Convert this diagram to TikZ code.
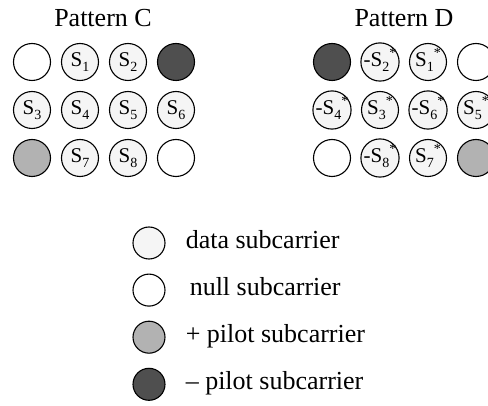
\documentclass[tikz,border=0pt]{standalone}
\usepackage{fontspec}
\setmainfont{Liberation Serif}
\usetikzlibrary{positioning}
\definecolor{datagray}{gray}{0.96}
\definecolor{plusgray}{gray}{0.70}
\definecolor{minusgray}{gray}{0.31}
\newcommand{\sbs}[1]{\raisebox{-5pt}{\fontsize{14}{14}\selectfont #1}}
\newcommand{\cnj}{\raisebox{8.5pt}{\fontsize{14}{14}\selectfont *}}

\begin{document}
\begin{tikzpicture}[x=1pt,y=-1pt,
    carrier/.style={circle,draw,line width=1.1pt,minimum size=37pt,inner sep=0pt,
      text height=14.5pt,text depth=5.5pt,font=\fontsize{21}{21}\selectfont},
    datasc/.style={carrier,fill=datagray},
    nullsc/.style={carrier,fill=white},
    pluspilot/.style={carrier,fill=plusgray},
    minuspilot/.style={carrier,fill=minusgray},
    keysc/.style={minimum size=32pt},
    keytext/.style={inner sep=0pt,text height=18pt,text depth=7pt,font=\fontsize{26}{26}\selectfont},
    headline/.style={anchor=base,inner sep=0pt,font=\fontsize{26}{26}\selectfont}]
        \path[use as bounding box,clip] (0,0) rectangle (488,406);

        % pattern C
        \node[headline] (titleC) at (103,27) {Pattern C};
        \node[nullsc] (c11) at (32,62) {};
        \node[datasc] (c12) at (80,62) {S\sbs{1}};
        \node[datasc] (c13) at (128,62) {S\sbs{2}};
        \node[minuspilot] (c14) at (176,62) {};
        \node[datasc] (c21) at (32,110) {S\sbs{3}};
        \node[datasc] (c22) at (80,110) {S\sbs{4}};
        \node[datasc] (c23) at (128,110) {S\sbs{5}};
        \node[datasc] (c24) at (176,110) {S\sbs{6}};
        \node[pluspilot] (c31) at (32,158) {};
        \node[datasc] (c32) at (80,158) {S\sbs{7}};
        \node[datasc] (c33) at (128,158) {S\sbs{8}};
        \node[nullsc] (c34) at (176,158) {};

        % pattern D
        \node[headline] (titleD) at (404,27) {Pattern D};
        \node[minuspilot] (d11) at (332,62) {};
        \node[datasc] (d12) at (380,62) {-S\sbs{2}\cnj};
        \node[datasc] (d13) at (428,62) {S\sbs{1}\cnj};
        \node[nullsc] (d14) at (476,62) {};
        \node[datasc] (d21) at (332,110) {-S\sbs{4}\cnj};
        \node[datasc] (d22) at (380,110) {S\sbs{3}\cnj};
        \node[datasc] (d23) at (428,110) {-S\sbs{6}\cnj};
        \node[datasc] (d24) at (476,110) {S\sbs{5}\cnj};
        \node[nullsc] (d31) at (332,158) {};
        \node[datasc] (d32) at (380,158) {-S\sbs{8}\cnj};
        \node[datasc] (d33) at (428,158) {S\sbs{7}\cnj};
        \node[pluspilot] (d34) at (476,158) {};

        % legend
        \node[datasc,keysc] (lgdata) at (149,243) {};
        \node[nullsc,keysc,below=14pt of lgdata] (lgnull) {};
        \node[pluspilot,keysc,below=14pt of lgnull] (lgplus) {};
        \node[minuspilot,keysc,below=14pt of lgplus] (lgminus) {};
        \node[keytext,right=20pt of lgdata] (txtdata) {data subcarrier};
        \node[keytext,right=24pt of lgnull] (txtnull) {null subcarrier};
        \node[keytext,right=20pt of lgplus] (txtplus) {+ pilot subcarrier};
        \node[keytext,right=20pt of lgminus] (txtminus) {– pilot subcarrier};
      \end{tikzpicture}
\end{document}
